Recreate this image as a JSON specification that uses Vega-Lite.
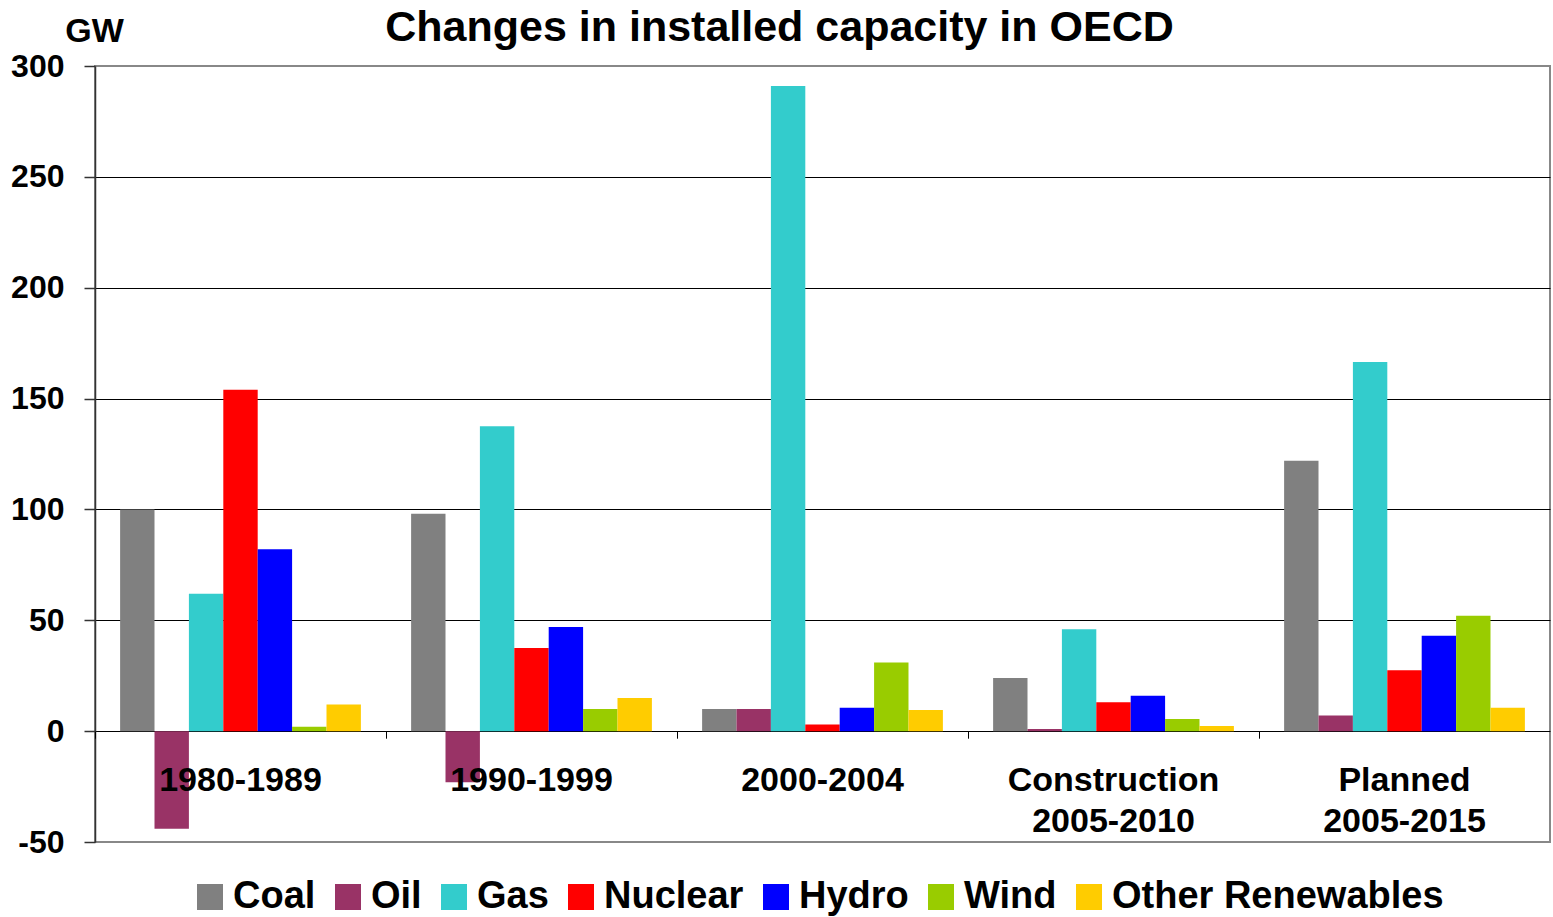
{
  "$schema": "https://vega.github.io/schema/vega-lite/v6.json",
  "autosize": {"type": "none"},
  "padding": {"left": 95, "top": 66, "right": 3, "bottom": 75},
  "width": 1455,
  "height": 776,
  "background": "white",
  "title": {
    "text": "Changes in installed capacity in OECD",
    "font": "Liberation Sans",
    "fontSize": 43,
    "fontWeight": "bold",
    "color": "black",
    "anchor": "middle",
    "frame": "group",
    "dx": -43,
    "baseline": "alphabetic",
    "offset": -70
  },
  "config": {
    "font": "Liberation Sans",
    "view": {"stroke": "#888888", "strokeWidth": 2}
  },
  "data": {
    "values": [
      {"period": "1980-1989", "source": "Coal", "gw": 100},
      {"period": "1980-1989", "source": "Oil", "gw": -44},
      {"period": "1980-1989", "source": "Gas", "gw": 62},
      {"period": "1980-1989", "source": "Nuclear", "gw": 154},
      {"period": "1980-1989", "source": "Hydro", "gw": 82},
      {"period": "1980-1989", "source": "Wind", "gw": 2},
      {"period": "1980-1989", "source": "Other Renewables", "gw": 12},
      {"period": "1990-1999", "source": "Coal", "gw": 98},
      {"period": "1990-1999", "source": "Oil", "gw": -23},
      {"period": "1990-1999", "source": "Gas", "gw": 137.5},
      {"period": "1990-1999", "source": "Nuclear", "gw": 37.5},
      {"period": "1990-1999", "source": "Hydro", "gw": 47},
      {"period": "1990-1999", "source": "Wind", "gw": 10},
      {"period": "1990-1999", "source": "Other Renewables", "gw": 15},
      {"period": "2000-2004", "source": "Coal", "gw": 10},
      {"period": "2000-2004", "source": "Oil", "gw": 10},
      {"period": "2000-2004", "source": "Gas", "gw": 291},
      {"period": "2000-2004", "source": "Nuclear", "gw": 3},
      {"period": "2000-2004", "source": "Hydro", "gw": 10.5},
      {"period": "2000-2004", "source": "Wind", "gw": 31},
      {"period": "2000-2004", "source": "Other Renewables", "gw": 9.5},
      {"period": "Construction 2005-2010", "source": "Coal", "gw": 24},
      {"period": "Construction 2005-2010", "source": "Oil", "gw": 1},
      {"period": "Construction 2005-2010", "source": "Gas", "gw": 46},
      {"period": "Construction 2005-2010", "source": "Nuclear", "gw": 13},
      {"period": "Construction 2005-2010", "source": "Hydro", "gw": 16},
      {"period": "Construction 2005-2010", "source": "Wind", "gw": 5.5},
      {"period": "Construction 2005-2010", "source": "Other Renewables", "gw": 2.3},
      {"period": "Planned 2005-2015", "source": "Coal", "gw": 122},
      {"period": "Planned 2005-2015", "source": "Oil", "gw": 7},
      {"period": "Planned 2005-2015", "source": "Gas", "gw": 166.5},
      {"period": "Planned 2005-2015", "source": "Nuclear", "gw": 27.5},
      {"period": "Planned 2005-2015", "source": "Hydro", "gw": 43},
      {"period": "Planned 2005-2015", "source": "Wind", "gw": 52},
      {"period": "Planned 2005-2015", "source": "Other Renewables", "gw": 10.5}
    ]
  },
  "mark": {"type": "bar"},
  "encoding": {
    "x": {
      "field": "period",
      "type": "nominal",
      "sort": null,
      "scale": {"paddingInner": 0, "paddingOuter": 0},
      "axis": {
        "title": null,
        "orient": "bottom",
        "offset": -110.8,
        "domain": false,
        "bandPosition": 0,
        "ticks": true,
        "tickSize": 7,
        "tickColor": "black",
        "tickWidth": 1,
        "labelAngle": 0,
        "labelAlign": "center",
        "labelBaseline": "top",
        "labelPadding": 25,
        "labelFont": "Liberation Sans",
        "labelFontSize": 34,
        "labelFontWeight": "bold",
        "labelColor": "black",
        "labelLineHeight": 41,
        "labelOverlap": false,
        "labelBound": false,
        "labelFlush": false,
        "labelLimit": 0,
        "labelExpr": "split(datum.label, ' ')",
        "zindex": 1
      }
    },
    "xOffset": {
      "field": "source",
      "type": "nominal",
      "sort": ["Coal", "Oil", "Gas", "Nuclear", "Hydro", "Wind", "Other Renewables"],
      "scale": {"paddingInner": 0, "paddingOuter": 0.73}
    },
    "y": {
      "field": "gw",
      "type": "quantitative",
      "scale": {"domain": [-50, 300], "nice": false, "zero": false},
      "axis": {
        "values": [-50, 0, 50, 100, 150, 200, 250, 300],
        "labelExpr": "toString(datum.value)",
        "title": "GW",
        "titleAngle": 0,
        "titleAlign": "center",
        "titleBaseline": "alphabetic",
        "titleX": -1,
        "titleY": -25,
        "titleFont": "Liberation Sans",
        "titleFontSize": 34,
        "titleFontWeight": "bold",
        "titleColor": "black",
        "labelFont": "Liberation Sans",
        "labelFontSize": 32,
        "labelFontWeight": "bold",
        "labelColor": "black",
        "labelPadding": 20,
        "tickSize": 11,
        "tickColor": "#333333",
        "tickWidth": 1.5,
        "domainColor": "#333333",
        "domainWidth": 1.5,
        "grid": true,
        "gridColor": {
          "condition": {"test": "datum.value === 300 || datum.value === -50", "value": "#888888"},
          "value": "black"
        },
        "gridWidth": 1,
        "gridOpacity": 1
      }
    },
    "color": {
      "field": "source",
      "type": "nominal",
      "sort": ["Coal", "Oil", "Gas", "Nuclear", "Hydro", "Wind", "Other Renewables"],
      "scale": {
        "domain": ["Coal", "Oil", "Gas", "Nuclear", "Hydro", "Wind", "Other Renewables"],
        "range": ["#808080", "#993366", "#33CCCC", "#FF0000", "#0000FF", "#99CC00", "#FFCC00"]
      },
      "legend": {
        "title": null,
        "orient": "none",
        "direction": "horizontal",
        "columns": 7,
        "legendX": 96,
        "legendY": 812,
        "symbolType": "square",
        "symbolSize": 676,
        "symbolStrokeWidth": 0,
        "symbolOpacity": 1,
        "labelFont": "Liberation Sans",
        "labelFontSize": 38,
        "labelFontWeight": "bold",
        "labelColor": "black",
        "labelOffset": 4,
        "labelLimit": 0,
        "columnPadding": 13
      }
    }
  }
}
